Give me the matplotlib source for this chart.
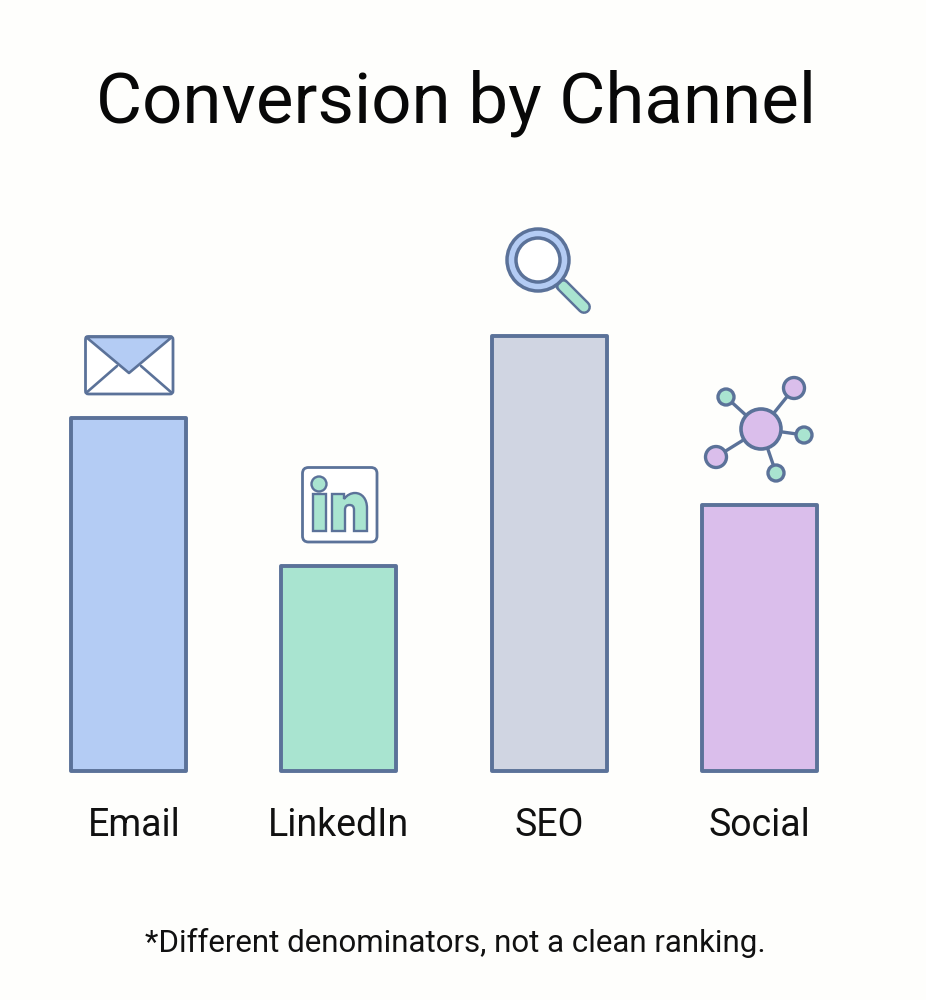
"""Conversion by channel bar chart with small channel icons."""

import matplotlib

matplotlib.use("Agg")

import matplotlib.pyplot as plt
from matplotlib.patches import Circle, FancyBboxPatch, PathPatch, Polygon
from matplotlib.path import Path
from matplotlib.transforms import ScaledTranslation

channels = ["Email", "LinkedIn", "SEO", "Social"]
conversion = [353, 205, 435, 266]
fill_colors = ["#B4CCF4", "#A9E4D0", "#D0D5E2", "#DABEEB"]

TITLE = "Conversion by Channel"
FOOTNOTE = "*Different denominators, not a clean ranking."

EDGE = "#5B7299"
BLUE, GREEN, GREY, PURPLE = fill_colors[0], fill_colors[1], fill_colors[2], fill_colors[3]
BACKGROUND = "#FEFEFC"
WHITE = "#FFFFFF"
FONT = "Roboto"

WIDTH, HEIGHT = 926, 1000


def add_box(axis, x0, y0, x1, y1, radius, linewidth=2.0):
    box = FancyBboxPatch(
        (x0, y0), x1 - x0, y1 - y0,
        boxstyle=f"round,pad=0,rounding_size={radius}",
        facecolor=WHITE, edgecolor=EDGE, linewidth=linewidth, zorder=1,
    )
    axis.add_patch(box)


def draw_envelope(axis):
    add_box(axis, 85.5, 336.5, 173, 394, 3)
    axis.plot([86, 117], [393, 366], color=EDGE, lw=1.9, solid_capstyle="round", zorder=2)
    axis.plot([172, 141], [393, 366], color=EDGE, lw=1.9, solid_capstyle="round", zorder=2)
    flap = Polygon(
        [(86, 337), (172, 337), (129, 373)], closed=True,
        facecolor=BLUE, edgecolor=EDGE, linewidth=1.9, joinstyle="round", zorder=3,
    )
    axis.add_patch(flap)


def draw_linkedin(axis):
    add_box(axis, 302.5, 467.5, 377, 542, 6)
    axis.add_patch(Circle((319, 484), 7.5, facecolor=GREEN, edgecolor=EDGE, lw=1.7, zorder=2))
    stem = Polygon(
        [(313, 494), (326, 494), (326, 531), (313, 531)], closed=True,
        facecolor=GREEN, edgecolor=EDGE, lw=1.7, zorder=2,
    )
    axis.add_patch(stem)
    verts = [
        (332, 531), (332, 494), (344, 494), (344, 499),
        (347, 495), (351, 493), (355, 493),
        (362, 493), (367, 499), (367, 508),
        (367, 531), (354, 531), (354, 510),
        (354, 506), (352, 505), (349.5, 505),
        (347, 505), (345, 506), (345, 510),
        (345, 531), (332, 531),
    ]
    codes = [
        Path.MOVETO, Path.LINETO, Path.LINETO, Path.LINETO,
        Path.CURVE4, Path.CURVE4, Path.CURVE4,
        Path.CURVE4, Path.CURVE4, Path.CURVE4,
        Path.LINETO, Path.LINETO, Path.LINETO,
        Path.CURVE4, Path.CURVE4, Path.CURVE4,
        Path.CURVE4, Path.CURVE4, Path.CURVE4,
        Path.LINETO, Path.CLOSEPOLY,
    ]
    axis.add_patch(PathPatch(Path(verts, codes), facecolor=GREEN, edgecolor=EDGE, lw=1.7, zorder=2))


def draw_magnifier(axis):
    # handle: dark stroke under a lighter one gives the outlined look
    axis.plot([562, 584], [285, 307], color=EDGE, lw=10, solid_capstyle="round", zorder=2)
    axis.plot([563, 584], [286, 307], color=GREEN, lw=6.5, solid_capstyle="round", zorder=3)
    axis.add_patch(Circle((538, 260), 31, facecolor=BLUE, edgecolor=EDGE, lw=2.5, zorder=4))
    axis.add_patch(Circle((538, 260), 22, facecolor=WHITE, edgecolor=EDGE, lw=2.5, zorder=5))


def draw_network(axis):
    hub = (761, 429)
    satellites = [
        (794, 388, 10.5, PURPLE),
        (726, 397, 8, GREEN),
        (804, 435, 8, GREEN),
        (716, 457, 10.5, PURPLE),
        (776, 473, 8, GREEN),
    ]
    for x, y, radius, color in satellites:
        axis.plot([hub[0], x], [hub[1], y], color=EDGE, lw=2.4, zorder=1)
        axis.add_patch(Circle((x, y), radius, facecolor=color, edgecolor=EDGE, lw=2.4, zorder=2))
    axis.add_patch(Circle(hub, 20, facecolor=PURPLE, edgecolor=EDGE, lw=2.6, zorder=3))


figure = plt.figure(figsize=(WIDTH / 100, HEIGHT / 100), dpi=100, facecolor=BACKGROUND)

# bar axes: bottom edge sits on the bar baseline
bar_axis = figure.add_axes([0, (HEIGHT - 771) / HEIGHT, 1, 771 / HEIGHT])
bar_axis.set_facecolor("none")
positions = list(range(len(channels)))
bars = bar_axis.bar(
    positions, conversion, width=0.547, color=fill_colors,
    edgecolor=EDGE, linewidth=2.8,
)
for bar in bars:
    bar.set_clip_on(False)
    bar.set_joinstyle("round")
bar_axis.set_xlim(-0.611, 3.792)
bar_axis.set_ylim(0, 771)
bar_axis.set_yticks([])
bar_axis.set_xticks(positions, channels, fontsize=27, family=FONT, color="#111111")
bar_axis.tick_params(axis="x", length=0, pad=26)
for spine in bar_axis.spines.values():
    spine.set_visible(False)

# the first label sits a little right of its bar centre
email_label = bar_axis.get_xticklabels()[0]
email_label.set_transform(
    email_label.get_transform() + ScaledTranslation(6 / 100, 0, figure.dpi_scale_trans)
)

# overlay in pixel units for the icons
icon_axis = figure.add_axes([0, 0, 1, 1])
icon_axis.set_xlim(0, WIDTH)
icon_axis.set_ylim(HEIGHT, 0)
icon_axis.axis("off")
draw_envelope(icon_axis)
draw_linkedin(icon_axis)
draw_magnifier(icon_axis)
draw_network(icon_axis)

figure.text(456 / WIDTH, 1 - 122.5 / HEIGHT, TITLE, ha="center", va="baseline",
            fontsize=51, family=FONT, color="#080808")
figure.text(455 / WIDTH, 1 - 943 / HEIGHT, FOOTNOTE, ha="center", va="center",
            fontsize=22.5, family=FONT, color="#111111")

figure.savefig("out.png", dpi=100, facecolor=BACKGROUND)
